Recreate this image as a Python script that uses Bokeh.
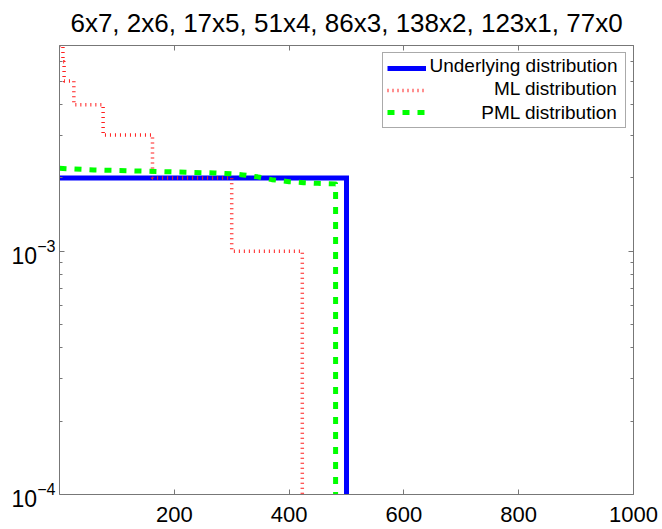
from bokeh.plotting import figure
from bokeh.models import (Range1d, FixedTicker, LinearAxis, LogAxis, Legend, LegendItem,
                          Label, CustomJSTickFormatter)
from bokeh.embed import file_html
from bokeh.resources import INLINE

# ---- data ----
# profile: prevalence x count  (e.g. 6 symbols seen 7 times)
prevalences = [6, 2, 17, 51, 86, 138, 123, 77]
counts = [7, 6, 5, 4, 3, 2, 1, 0]

# ML distribution: sorted probabilities, step edges on symbol rank
ml_edges = [0, 6, 8, 25, 76, 162, 300, 423]
ml_probs = [7e-3, 6e-3, 5e-3, 4e-3, 3e-3, 2e-3, 1e-3]

# underlying uniform distribution
true_edges = [0, 500]
true_probs = [2e-3]

# PML distribution
pml_x = [0, 60, 120, 170, 220, 270, 300, 320, 345, 370, 400, 425, 450, 480]
pml_p = [2.19e-3, 2.157e-3, 2.14e-3, 2.125e-3, 2.11e-3, 2.095e-3, 2.08e-3,
         2.057e-3, 2.02e-3, 1.967e-3, 1.93e-3, 1.912e-3, 1.90e-3, 1.89e-3]
pml_support = 481

zero_p = 1e-9  # probability zero beyond the support (below the axis)

x_ticks = [200, 400, 600, 800, 1000]
y_ticks = [1e-4, 1e-3]
y_minor = [2e-4, 3e-4, 4e-4, 5e-4, 6e-4, 7e-4, 8e-4, 9e-4,
           2e-3, 3e-3, 4e-3, 5e-3, 6e-3, 7e-3]

legend_labels = ["Underlying distribution", "ML distribution", "PML distribution"]

title = ", ".join(f"{m}x{c}" for m, c in zip(prevalences, counts))

FONT = "Liberation Sans"
AX = "#777777"

W, H = 662, 529
BL, BR, BT, BB = 59, 29, 45, 35
FW, FH = W - BL - BR, H - BT - BB

p = figure(width=W, height=H, x_range=Range1d(0, 1000), y_range=Range1d(1e-4, 7e-3),
           y_axis_type="log", output_backend="svg", toolbar_location=None,
           min_border_left=BL, min_border_right=BR, min_border_top=BT, min_border_bottom=BB,
           title=title)
p.title.text_font = FONT
p.title.text_font_size = "26px"
p.title.text_font_style = "normal"
p.title.align = "center"
p.title.vertical_align = "top"
p.title.text_color = "black"
p.title.standoff = 11
p.grid.visible = False
p.outline_line_color = None
p.background_fill_color = "white"
p.border_fill_color = "white"

xt = FixedTicker(ticks=x_ticks)
yt = FixedTicker(ticks=y_ticks, minor_ticks=y_minor)

def style(ax, labels=True):
    ax.axis_line_color = AX
    ax.major_tick_line_color = AX
    ax.minor_tick_line_color = AX
    ax.major_tick_in = 5
    ax.major_tick_out = 0
    ax.minor_tick_in = 3
    ax.minor_tick_out = 0
    ax.major_label_text_font = FONT
    ax.major_label_text_color = "black"
    if not labels:
        ax.formatter = CustomJSTickFormatter(code="return ''")
        ax.major_label_standoff = 0

xa = p.xaxis[0]
xa.ticker = xt
style(xa)
xa.major_label_text_font_size = "22px"
xa.major_label_standoff = 12

ya = p.yaxis[0]
ya.ticker = yt
style(ya)
ya.major_label_text_font_size = "23px"
ya.major_label_standoff = 4

top = LinearAxis(ticker=xt)
style(top, labels=False)
p.add_layout(top, "above")
right = LogAxis(ticker=yt)
style(right, labels=False)
p.add_layout(right, "right")

r_true = p.step(x=true_edges, y=true_probs + [zero_p], mode="after",
                line_color="#0000ff", line_width=5, line_join="miter")
r_ml = p.step(x=ml_edges, y=ml_probs + [zero_p], mode="after",
              line_color="#ff2020", line_width=3.5, line_dash="1 4")
r_pml = p.line(x=pml_x + [pml_support, pml_support], y=pml_p + [pml_p[-1], zero_p],
               line_color="#00ff00", line_width=5, line_dash="7 8", line_join="round")

legend = Legend(items=[LegendItem(label=" ", renderers=[r]) for r in (r_true, r_ml, r_pml)],
                location="top_right", margin=7, padding=4, spacing=0,
                glyph_width=39, glyph_height=22, label_height=22, label_standoff=4,
                label_width=191, border_line_color="#555555", border_line_width=1,
                background_fill_color="white", background_fill_alpha=0.0)
p.add_layout(legend, "center")

for txt, yy in zip(legend_labels, [429, 406, 382]):
    p.add_layout(Label(x=558, y=yy, x_units="screen", y_units="screen",
                       text=txt, text_align="right", text_baseline="middle",
                       text_font=FONT, text_font_size="19px", text_color="black",
                       level="overlay"))

open("out.html", "w").write(file_html(p, INLINE))
